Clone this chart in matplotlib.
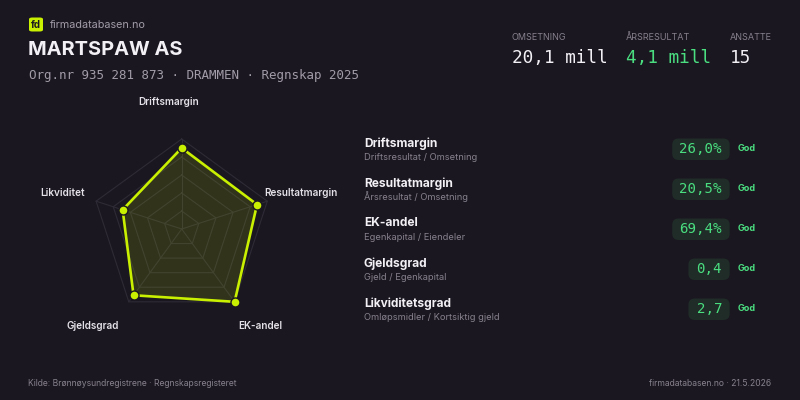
import numpy as np
import matplotlib
matplotlib.use("Agg")
import matplotlib.pyplot as plt
from matplotlib.patches import FancyBboxPatch

# ---- data ----
company = "MARTSPAW AS"
subtitle = "Org.nr 935 281 873 · DRAMMEN · Regnskap 2025"
kpi_labels = ["OMSETNING", "ÅRSRESULTAT", "ANSATTE"]
kpi_values = ["20,1 mill", "4,1 mill", "15"]
radar_labels = ["Driftsmargin", "Resultatmargin", "EK-andel", "Gjeldsgrad", "Likviditet"]
radar_scores = [90, 88, 100, 91, 69]
metric_names = ["Driftsmargin", "Resultatmargin", "EK-andel", "Gjeldsgrad", "Likviditetsgrad"]
metric_formulas = ["Driftsresultat / Omsetning", "Årsresultat / Omsetning",
                   "Egenkapital / Eiendeler", "Gjeld / Egenkapital",
                   "Omløpsmidler / Kortsiktig gjeld"]
metric_values = ["26,0%", "20,5%", "69,4%", "0,4", "2,7"]
metric_ratings = ["God", "God", "God", "God", "God"]
footer_left = "Kilde: Brønnøysundregistrene · Regnskapsregisteret"
footer_right = "firmadatabasen.no · 21.5.2026"

# ---- style ----
BG = "#1b1720"
WHITE = "#f2f0f5"
GRAY = "#a19ca8"
DIM = "#86818d"
LIME = "#c8f000"
GREEN = "#4ade80"
BADGE = "#1f2c27"
GRID = "#2f2b36"
SANS = ["Inter", "DejaVu Sans"]
MONO = ["DejaVu Sans Mono"]

W, H = 800, 400
fig = plt.figure(figsize=(8, 4), dpi=100, facecolor=BG)


def ft(x, y, s, **kw):
    return fig.text(x / W, 1 - y / H, s, **kw)


# header
logo = FancyBboxPatch((29 / W, 1 - 31.5 / H), 14 / W, 14 / H,
                      boxstyle="round,pad=0,rounding_size=0.004",
                      transform=fig.transFigure, facecolor=LIME, edgecolor="none")
fig.patches.append(logo)
ft(36, 24.5, "fd", color="#1b1720", fontsize=7, fontweight="bold", family=SANS,
   ha="center", va="center")
ft(50, 24.5, "firmadatabasen.no", color=GRAY, fontsize=7.8, family=SANS, va="center")
ft(28.5, 50, company, color=WHITE, fontsize=14.4, fontweight="bold", family=SANS, va="center")
ft(29, 76, subtitle, color=GRAY, fontsize=9, family=MONO, va="center")

kpi_x = [512, 626, 730]
for x, lab, val, c in zip(kpi_x, kpi_labels, kpi_values, [WHITE, GREEN, WHITE]):
    ft(x, 37.5, lab, color=DIM, fontsize=6.5, family=SANS, va="center")
    ft(x, 58, val, color=c, fontsize=12.8, family=MONO, va="center")

# radar chart
cx, cy, R = 181.7, 229.0, 90.0
half = 150 * 0.9
ax = fig.add_axes([(cx - half) / W, (H - cy - half) / H, 2 * half / W, 2 * half / H])
ax.set_xlim(-150, 150)
ax.set_ylim(-150, 150)
ax.set_aspect("equal")
ax.axis("off")
n = len(radar_labels)
ang = np.pi / 2 - 2 * np.pi * np.arange(n) / n
for lev in [20, 40, 60, 80, 100]:
    xs = np.append(lev * np.cos(ang), lev * np.cos(ang[0]))
    ys = np.append(lev * np.sin(ang), lev * np.sin(ang[0]))
    ax.plot(xs, ys, color=GRID, lw=0.8, zorder=1)
for a in ang:
    ax.plot([0, 100 * np.cos(a)], [0, 100 * np.sin(a)], color=GRID, lw=0.8, zorder=1)
sc = np.array(radar_scores, dtype=float)
px = np.append(sc * np.cos(ang), sc[0] * np.cos(ang[0]))
py = np.append(sc * np.sin(ang), sc[0] * np.sin(ang[0]))
ax.fill(px, py, color=LIME, alpha=0.13, lw=0, zorder=2)
ax.plot(px, py, color=LIME, lw=1.9, zorder=3, solid_joinstyle="miter")
ax.plot(px[:-1], py[:-1], "o", color=LIME, ms=6.5, mec=BG, mew=1.0, zorder=4)
label_pos = [(-14, 141), (132.6, 40), (87, -107.4), (-98.9, -107.4), (-132.2, 40)]
for (lx, ly), lab in zip(label_pos, radar_labels):
    ax.text(lx, ly, lab, color="#e4e1e8", fontsize=7.2,
            fontweight="semibold", family=SANS, ha="center", va="center")

# metric list
row0, step = 143.5, 40
for i, (nm, fm, val, rt) in enumerate(zip(metric_names, metric_formulas,
                                           metric_values, metric_ratings)):
    y = row0 + i * step
    ft(364, y, nm, color=WHITE, fontsize=8.6, fontweight="bold", family=SANS, va="center")
    ft(364, y + 13.5, fm, color=DIM, fontsize=6.7, family=SANS, va="center")
    bw = 17 + 8.1 * len(val)
    x1 = 729.7
    badge = FancyBboxPatch(((x1 - bw) / W, 1 - (y + 16.5) / H), bw / W, 21.5 / H,
                           boxstyle="round,pad=0,rounding_size=0.008",
                           transform=fig.transFigure, facecolor=BADGE, edgecolor="none",
                           mutation_aspect=2)
    fig.patches.append(badge)
    ft(722, y + 5.5, val, color=GREEN, fontsize=10.2, family=MONO, ha="right", va="center")
    ft(738, y + 5, rt, color=GREEN, fontsize=6.5, fontweight="bold", family=SANS, va="center")

# footer
ft(28, 384, footer_left, color=DIM, fontsize=6.2, family=SANS, va="center")
ft(771, 384, footer_right, color=DIM, fontsize=6.2, family=SANS, va="center", ha="right")

fig.savefig("out.png", dpi=100, facecolor=BG)
